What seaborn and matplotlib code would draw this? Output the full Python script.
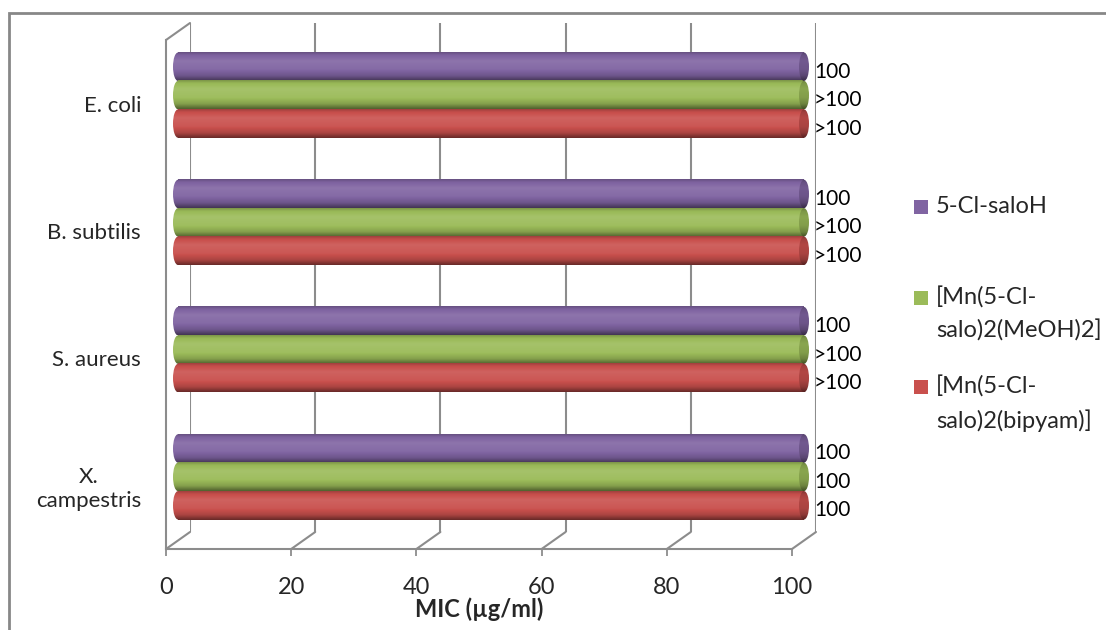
import numpy as np
import pandas as pd
import matplotlib
matplotlib.use("Agg")
import matplotlib.pyplot as plt
import seaborn as sns
from matplotlib.patches import Rectangle, Ellipse
from matplotlib.lines import Line2D
import matplotlib.colors as mcolors

# ---------------- data ----------------
categories = ["E. coli", "B. subtilis", "S. aureus", "X.\ncampestris"]
series = ["5-Cl-saloH", "[Mn(5-Cl-salo)2(MeOH)2]", "[Mn(5-Cl-salo)2(bipyam)]"]
legend_labels = ["5-Cl-saloH", "[Mn(5-Cl-\nsalo)2(MeOH)2]", "[Mn(5-Cl-\nsalo)2(bipyam)]"]
saloH = [100, 100, 100, 100]
mn_meoh = [100, 100, 100, 100]
mn_bipyam = [100, 100, 100, 100]
saloH_labels = ["100", "100", "100", "100"]
meoh_labels = [">100", ">100", ">100", "100"]
bipyam_labels = [">100", ">100", ">100", "100"]
x_ticks = [0, 20, 40, 60, 80, 100]
colors = ["#8064A2", "#9BBB59", "#C9504D"]

bar_texts = [saloH_labels, meoh_labels, bipyam_labels]

df = pd.DataFrame({
    "category": categories * 3,
    "series": [s for s in series for _ in categories],
    "value": saloH + mn_meoh + mn_bipyam,
})

# ---------------- figure ----------------
sns.set_theme(style="white")
plt.rcParams["font.family"] = ["Lato", "DejaVu Sans"]
W, H = 1106, 630
fig = plt.figure(figsize=(W / 100, H / 100), dpi=100)

# front plane (pixels)
fl, fr, ft, fb = 166, 792, 40, 549
depth_dx, depth_dy = 24, 17


def add_ax(dx, dy, z):
    a = fig.add_axes([(fl + dx) / W, (H - fb + dy) / H, (fr - fl) / W, (fb - ft) / H])
    a.set_zorder(z)
    a.patch.set_alpha(0)
    return a


ax_back = add_ax(depth_dx, depth_dy, 0)
ax_mid = add_ax(depth_dx / 2, depth_dy / 2, 1)
ax_front = add_ax(0, 0, 2)

grid_col = "#8c8c8c"

# back wall gridlines
ax_back.set_xlim(0, 100)
ax_back.set_ylim(0, 1)
ax_back.set_xticks(x_ticks)
ax_back.set_yticks([])
ax_back.tick_params(axis="x", length=0, labelbottom=False)
ax_back.grid(axis="x", color=grid_col, lw=1.5)
for s in ax_back.spines.values():
    s.set_visible(False)

# bars
sns.barplot(data=df, y="category", x="value", hue="series", order=categories,
            hue_order=series, palette=colors, saturation=1, width=0.67,
            orient="h", ax=ax_mid, legend=False, linewidth=0)
ax_mid.set_xlim(0, 100)
ax_mid.set_ylim(3.5, -0.5)
ax_mid.axis("off")

px_per_unit = ax_mid.transData.transform((1, 0))[0] - ax_mid.transData.transform((0, 0))[0]
cap_w = 10 / px_per_unit

prof_t = [0.0, 0.1, 0.3, 0.6, 0.82, 1.0]
prof_f = [0.80, 0.98, 1.08, 1.03, 0.86, 0.52]


def shade(rgb, f):
    rgb = np.array(rgb)
    if f >= 1:
        return rgb + (1 - rgb) * (f - 1) * 1.3
    return rgb * f


def gradient(color, scale=1.0):
    rgb = mcolors.to_rgb(color)
    t = np.linspace(0, 1, 64)
    f = np.interp(t, prof_t, prof_f) * scale
    img = np.array([shade(rgb, v) for v in f])
    return np.clip(img, 0, 1)[:, None, :]


def cap_image(ax, g, xc, y0, hh, z):
    ell = Ellipse((xc, y0 + hh / 2), cap_w, hh, facecolor="none", edgecolor="none",
                  clip_on=False)
    ax.add_patch(ell)
    im = ax.imshow(g, extent=(xc - cap_w / 2, xc + cap_w / 2, y0 + hh, y0),
                   origin="upper", aspect="auto", interpolation="bilinear", zorder=z)
    im.set_clip_box(fig.bbox)
    im.set_clip_path(ell)
    return im


for h_i, cont in enumerate(ax_mid.containers):
    g = gradient(colors[h_i])
    gd = gradient(colors[h_i], 0.82)
    for p in cont.patches:
        x0, y0 = p.get_x(), p.get_y()
        w, hh = p.get_width(), p.get_height()
        p.set_alpha(0)
        p.set_edgecolor("none")
        ax_mid.imshow(g, extent=(x0, x0 + w, y0 + hh, y0), origin="upper",
                      aspect="auto", interpolation="bilinear", zorder=2)
        cap_image(ax_mid, g, x0, y0, hh, 1.9)
        cap_image(ax_mid, gd, x0 + w, y0, hh, 3)
    anns = ax_mid.bar_label(cont, labels=bar_texts[h_i], padding=7.2, fontsize=15,
                            color="#000000", zorder=5)
    for a in anns:
        a.xyann = (7.2, -3.6)
        a.set_clip_on(False)

ax_mid.set_xlim(0, 100)
ax_mid.set_ylim(3.5, -0.5)

# front axes: ticks, labels, floor
ax_front.set_xlim(0, 100)
ax_front.set_ylim(3.5, -0.5)
ax_front.set_xticks(x_ticks)
ax_front.set_xticklabels([str(v) for v in x_ticks], fontsize=17)
ax_front.set_yticks(range(len(categories)))
ax_front.set_yticklabels(categories, fontsize=16, multialignment="center")
ax_front.tick_params(axis="x", direction="out", length=5, width=1.3, color=grid_col,
                     pad=15, bottom=True)
ax_front.tick_params(axis="y", length=0, pad=18)
for k, s in ax_front.spines.items():
    s.set_visible(k in ("left", "bottom"))
    s.set_color(grid_col)
    s.set_linewidth(1.5)
ax_front.set_xlabel("MIC (µg/ml)", fontsize=17, fontweight="bold", labelpad=0)

# depth connectors
fig_inv = fig.transFigure.inverted()


def connect(v, yv):
    p1 = fig_inv.transform(ax_front.transData.transform((v, yv)))
    p2 = fig_inv.transform(ax_back.transData.transform((v, 0 if yv > 1 else 1)))
    fig.add_artist(Line2D([p1[0], p2[0]], [p1[1], p2[1]], transform=fig.transFigure,
                          color=grid_col, lw=1.5, zorder=1))


for v in x_ticks:
    connect(v, 3.5)
connect(0, -0.5)

# legend (manual)
leg_x, leg_sq = 914, 14
leg_rows = [200, 291, 380]
for lab, col, yt in zip(legend_labels, colors, leg_rows):
    fig.add_artist(Rectangle((leg_x / W, 1 - (yt + leg_sq) / H), leg_sq / W, leg_sq / H,
                             transform=fig.transFigure, facecolor=col, edgecolor="none"))
    fig.text((leg_x + 22) / W, 1 - (yt - 4) / H, lab, fontsize=17, va="top", ha="left",
             linespacing=1.6)

# outer border
fig.add_artist(Rectangle((8.5 / W, -0.1), 1.2, (1 - 13 / H) + 0.1, transform=fig.transFigure,
                         fill=False, edgecolor="#878787", lw=2))

fig.savefig("out.png", dpi=100)
